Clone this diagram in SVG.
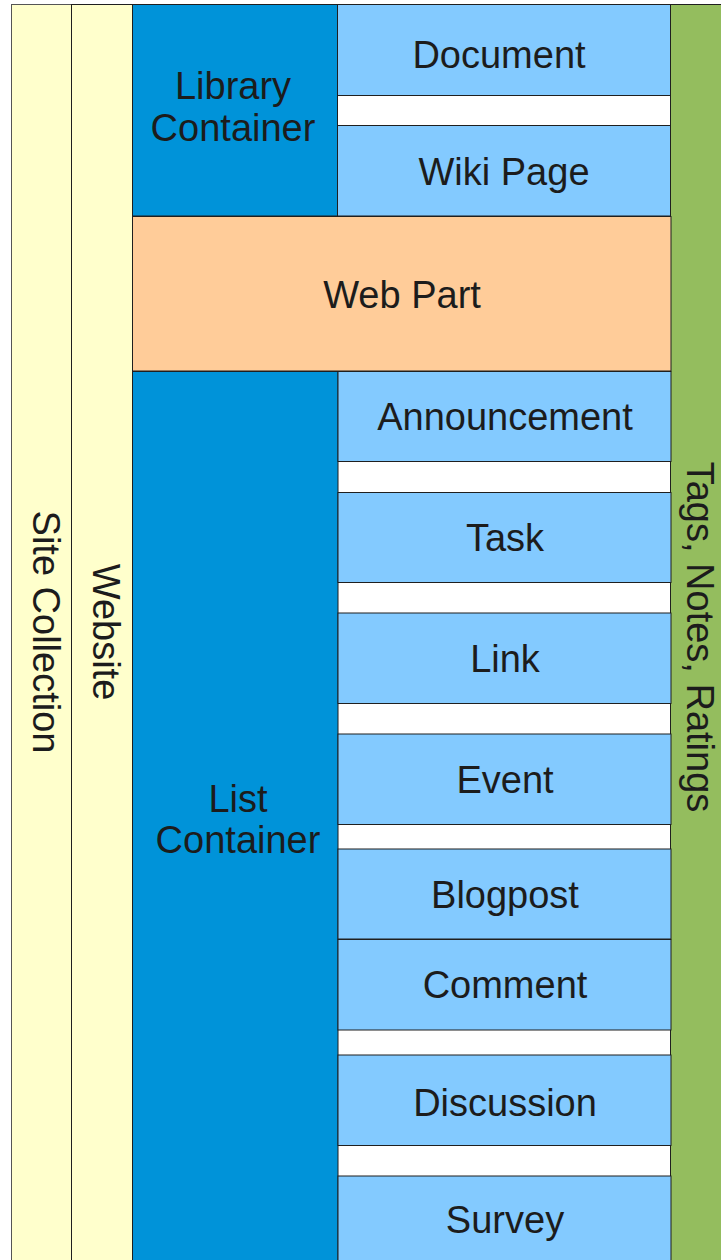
<svg xmlns="http://www.w3.org/2000/svg" width="721" height="1260" viewBox="0 0 721 1260">
<style>
rect{stroke:#1f1f1f;stroke-width:1}
.y{fill:#ffffcc}
.db{fill:#0093d9}
.lb{fill:#83caff}
.or{fill:#ffcc99}
.gr{fill:#94bd5e}
text{font-family:"Liberation Sans",Arial,sans-serif;font-size:38px;fill:#1c1c1c;text-anchor:middle}
</style>
<rect x="0" y="0" width="721" height="1260" style="fill:#ffffff;stroke:none"/>
<g id="site-collection">
<rect class="y" x="11.5" y="4.5" width="60" height="1270" style="stroke:#555"/>
<text transform="translate(33,632) rotate(90)">Site Collection</text>
</g>
<g id="website">
<rect class="y" x="71.5" y="4.5" width="61" height="1270"/>
<text transform="translate(93,632) rotate(90)">Website</text>
</g>
<g id="tags-notes-ratings">
<rect class="gr" x="670.5" y="4.5" width="60" height="1270"/>
<text transform="translate(687,637) rotate(90)">Tags, Notes, Ratings</text>
</g>
<g id="library-container">
<rect class="db" x="132.5" y="4.5" width="205" height="211.5"/>
<text x="233" y="99">Library</text>
<text x="233" y="141">Container</text>
</g>
<g id="document">
<rect class="lb" x="337.5" y="4.5" width="333" height="91"/>
<text x="499" y="68">Document</text>
</g>
<g id="wiki-page">
<rect class="lb" x="337.5" y="125.5" width="333" height="90.5"/>
<text x="504" y="185">Wiki Page</text>
</g>
<g id="web-part">
<rect class="or" x="132.5" y="216.5" width="538.5" height="154.5"/>
<text x="402" y="308">Web Part</text>
</g>
<g id="list-container">
<rect class="db" x="132.5" y="371.5" width="205.5" height="900"/>
<text x="238" y="812">List</text>
<text x="238" y="853">Container</text>
</g>
<g id="announcement">
<rect class="lb" x="338" y="371.5" width="333" height="90"/>
<text x="505" y="430">Announcement</text>
</g>
<g id="task">
<rect class="lb" x="338" y="492.5" width="333" height="90"/>
<text x="505" y="551">Task</text>
</g>
<g id="link">
<rect class="lb" x="338" y="613" width="333" height="90.5"/>
<text x="505" y="672">Link</text>
</g>
<g id="event">
<rect class="lb" x="338" y="734" width="333" height="90.5"/>
<text x="505" y="793">Event</text>
</g>
<g id="blogpost">
<rect class="lb" x="338" y="849" width="333" height="90"/>
<text x="505" y="908">Blogpost</text>
</g>
<g id="comment">
<rect class="lb" x="338" y="939.5" width="333" height="90.5"/>
<text x="505" y="998">Comment</text>
</g>
<g id="discussion">
<rect class="lb" x="338" y="1055" width="333" height="90.5"/>
<text x="505" y="1116">Discussion</text>
</g>
<g id="survey">
<rect class="lb" x="338" y="1176" width="333" height="100"/>
<text x="505" y="1233">Survey</text>
</g>
<g id="connectors"></g>
</svg>
